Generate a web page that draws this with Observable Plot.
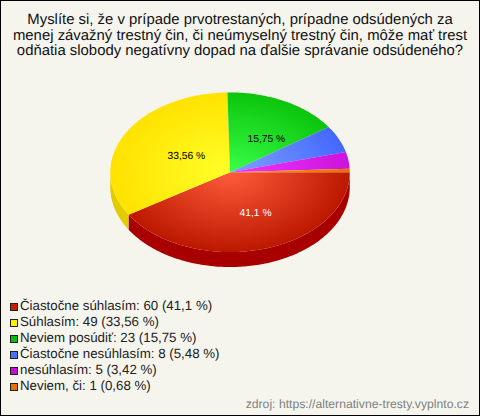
<!DOCTYPE html>
<html><head><meta charset="utf-8">
<script src="https://cdn.jsdelivr.net/npm/d3@7"></script>
<script src="https://cdn.jsdelivr.net/npm/@observablehq/plot@0.6"></script>
<style>
html,body{margin:0;padding:0;background:#f5f5ee;}
#card{position:relative;box-sizing:border-box;width:480px;height:416px;border:1px solid #000;background:#f5f5ee;overflow:hidden;font-family:"Liberation Sans",Arial,sans-serif;text-rendering:geometricPrecision;}
#title{position:absolute;left:-1px;top:12px;width:480px;text-align:center;font-size:14.9px;line-height:15.6px;color:#111;}
#chart{position:absolute;left:-1px;top:59px;}
#chart svg{display:block;background:transparent;text-rendering:geometricPrecision;}
#legend{position:absolute;left:9px;top:297px;font-size:13.3px;line-height:16px;color:#222;}
#legend div{height:16px;white-space:nowrap;}
#legend i{display:inline-block;box-sizing:border-box;width:8px;height:8px;border:1px solid #222;margin-right:2px;vertical-align:-0.5px;}
#source{position:absolute;right:10px;top:396px;font-size:12.2px;line-height:14px;color:#808080;}
</style></head>
<body>
<div id="card">
  <div id="title"></div>
  <div id="chart"></div>
  <div id="legend"></div>
  <div id="source"></div>
</div>
<script>
const titleLines = [
  "Myslíte si, že v prípade prvotrestaných, prípadne odsúdených za",
  "menej závažný trestný čin, či neúmyselný trestný čin, môže mať trest",
  "odňatia slobody negatívny dopad na ďalšie správanie odsúdeného?"
];
const categories = ["Čiastočne súhlasím","Súhlasím","Neviem posúdiť","Čiastočne nesúhlasím","nesúhlasím","Neviem, či"];
const counts = [60,49,23,8,5,1];
const percents = ["41,1 %","33,56 %","15,75 %","5,48 %","3,42 %","0,68 %"];
const sliceLabels = ["41,1 %","33,56 %","15,75 %","","",""];
const labelColors = ["#fff","#000","#000","#000","#000","#000"];
const swatchColors = ["#c42000","#ffee00","#0cbc0c","#4a70ff","#c410d4","#e87000"];
const innerColors = ["#ff5c3c","#ffff28","#38ff48","#7ea2ff","#f034ff","#ff9a20"];
const outerColors = ["#bc1800","#ffe200","#0cc40c","#4468ff","#cc14dc","#e87000"];
const sideColors = ["#a80000","#e2cc00","#0a9a0a","#3050c0","#9a10a8","#b85800"];
const source = "zdroj: https://alternativne-tresty.vyplnto.cz";
const depth = 0.1875;

document.getElementById("title").innerHTML = titleLines.join("<br>");
document.getElementById("source").textContent = source;
document.getElementById("legend").innerHTML = categories.map((c,i)=>
  `<div><i style="background:${swatchColors[i]}"></i>${c}: ${counts[i]} (${percents[i]})</div>`).join("");

const arcs = d3.pie().sort(null).startAngle(Math.PI/2).endAngle(Math.PI/2+2*Math.PI)(counts);
const px = a => Math.sin(a), py = a => -Math.cos(a);
function sweep(a0,a1){
  const n = Math.max(2, Math.ceil((a1-a0)/(Math.PI/180)));
  return d3.range(n+1).map(k => a0+(a1-a0)*k/n);
}
const wedges = arcs.map(s => [{x:0,y:0}, ...sweep(s.startAngle,s.endAngle).map(a=>({x:px(a),y:py(a)}))]);
const front = [Math.PI/2, Math.PI*1.5];
const sides = arcs.map(s => {
  const a0 = Math.max(s.startAngle,front[0]), a1 = Math.min(s.endAngle,front[1]);
  if (a1 <= a0) return null;
  const arc = sweep(a0,a1);
  return [...arc.map(a=>({x:px(a),y:py(a)})), ...arc.slice().reverse().map(a=>({x:px(a),y:py(a)+depth}))];
});
const labels = arcs.map((s,i)=>{
  const m=(s.startAngle+s.endAngle)/2;
  return {x:0.5*px(m),y:0.5*py(m),text:sliceLabels[i],color:labelColors[i]};
}).filter(d=>d.text);

const defs = (index, scales) => {
  const cx=scales.x(0), cy=scales.y(0), rx=scales.x(1)-cx, ry=scales.y(1)-cy;
  const d = d3.create("svg:defs");
  categories.forEach((c,i)=>{
    const g = d.append("radialGradient").attr("id","slice"+i)
      .attr("gradientUnits","userSpaceOnUse").attr("cx",0).attr("cy",0).attr("r",1)
      .attr("gradientTransform",`translate(${cx},${cy}) scale(${rx},${ry})`);
    g.append("stop").attr("offset","0%").attr("stop-color",innerColors[i]);
    g.append("stop").attr("offset","100%").attr("stop-color",outerColors[i]);
  });
  return d.node();
};

const top0 = 59;
const plot = Plot.plot({
  width:480, height:228, margin:0,
  x:{domain:[-1,1], range:[110,350], axis:null},
  y:{domain:[-1,1], range:[91-top0,251-top0], axis:null},
  marks:[
    defs,
    ...sides.map((p,i)=> p ? Plot.line(p,{x:"x",y:"y",fill:sideColors[i],stroke:null}) : null).filter(Boolean),
    ...wedges.map((p,i)=> Plot.line(p,{x:"x",y:"y",fill:`url(#slice${i})`,stroke:null})),
    Plot.text(labels,{x:"x",y:"y",text:"text",fill:"color",dx:9,dy:2,fontSize:10.3,fontFamily:"Liberation Sans"})
  ]
});
document.getElementById("chart").appendChild(plot);
</script>
</body></html>
